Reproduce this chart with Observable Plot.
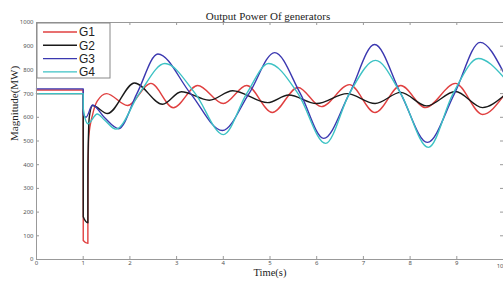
<!DOCTYPE html>
<html>
<head>
<meta charset="utf-8">
<script src="https://cdn.jsdelivr.net/npm/d3@7"></script>
<script src="https://cdn.jsdelivr.net/npm/@observablehq/plot@0.6"></script>
<style>
  html, body { margin: 0; padding: 0; background: #fff; overflow: hidden; }
  #chart svg { display: block; }
</style>
</head>
<body>
<div id="chart"></div>
<script>
const title = "Output Power Of generators";
const xLabel = "Time(s)";
const yLabel = "Magnitude(MW)";
const xTicks = [0, 1, 2, 3, 4, 5, 6, 7, 8, 9, 10];
const yTicks = [0, 100, 200, 300, 400, 500, 600, 700, 800, 900, 1000];
const seriesNames = ["G1", "G2", "G3", "G4"];
const seriesColors = ["#e04040", "#1a1a1a", "#3b38b0", "#3cc2c4"];

const G1 = [[0,715],[1.0,715],[1.001,80],[1.1,68],[1.101,300],[1.12,520],[1.2,610],[1.3,668],[1.5,700],[1.95,650],[2.45,743],[2.93,640],[3.45,734],[4.0,658],[4.5,734],[5.05,620],[5.6,726],[6.1,645],[6.7,738],[7.25,620],[7.8,734],[8.33,641],[8.97,743],[9.55,612],[10,690]];
const G2 = [[0,700],[1.0,700],[1.001,180],[1.1,155],[1.101,400],[1.13,600],[1.2,650],[1.52,616],[2.1,745],[2.7,655],[3.1,708],[3.7,672],[4.2,712],[4.95,662],[5.4,694],[6.0,658],[6.65,700],[7.25,658],[7.8,705],[8.35,648],[8.97,709],[9.55,641],[10,690]];
const G3 = [[0,720],[1.0,720],[1.001,615],[1.06,600],[1.2,652],[1.45,600],[1.76,552],[2.15,700],[2.6,867],[3.3,700],[3.98,544],[4.55,700],[5.1,873],[5.65,700],[6.15,511],[6.7,700],[7.24,907],[7.8,700],[8.37,494],[8.95,700],[9.5,916],[10,790]];
const G4 = [[0,700],[1.0,700],[1.001,637],[1.1,573],[1.3,614],[1.45,590],[1.7,550],[2.2,700],[2.75,827],[3.4,700],[4.0,527],[4.5,700],[4.97,827],[5.6,700],[6.19,490],[6.7,700],[7.26,840],[7.8,700],[8.39,473],[8.92,700],[9.46,848],[10,770]];

const seriesData = [G1, G2, G3, G4];
const rows = seriesData.flatMap((arr, i) => arr.map(([t, v]) => ({t, v, s: seriesNames[i]})));

const W = 503, H = 281;
const axisCol = "#999";
const tickLen = 3;
const fmt = d => String(d);
const xTicksMain = xTicks.slice(0, -1);
const xTickLast = xTicks.slice(-1);

const chart = Plot.plot({
  width: W,
  height: H,
  marginLeft: 36,
  marginRight: 0,
  marginTop: 22,
  marginBottom: 22,
  style: {background: "#fff", overflow: "visible"},
  x: {domain: [0, 10], label: null},
  y: {domain: [0, 1000], label: null},
  color: {domain: seriesNames, range: seriesColors},
  marks: [
    Plot.axisX({ticks: xTicksMain, tickSize: 0, tickPadding: 1, tickFormat: fmt, fontSize: 6, fill: "#555", label: null}),
    Plot.text(xTickLast, {x: d => d, frameAnchor: "bottom", dy: 4, lineAnchor: "top", textAnchor: "end", fontSize: 6, fill: "#555", text: fmt}),
    Plot.axisY({ticks: yTicks, tickSize: 0, tickPadding: 3, tickFormat: fmt, fontSize: 6, fill: "#555", label: null}),
    Plot.line(rows, {x: "t", y: "v", z: "s", stroke: "s", strokeWidth: 1.4, curve: "monotone-x"}),
    Plot.frame({stroke: axisCol, strokeWidth: 1}),
    Plot.tickX(xTicks, {x: d => d, stroke: axisCol, insetTop: 237 - tickLen}),
    Plot.tickX(xTicks, {x: d => d, stroke: axisCol, insetBottom: 237 - tickLen}),
    Plot.tickY(yTicks, {y: d => d, stroke: axisCol, insetRight: 467 - tickLen}),
    Plot.tickY(yTicks, {y: d => d, stroke: axisCol, insetLeft: 467 - tickLen}),
    Plot.text([title], {frameAnchor: "top", dy: -10, dx: -2, fontSize: 11, fontFamily: "Liberation Serif", fill: "#222"}),
    Plot.text([xLabel], {frameAnchor: "bottom", dy: 16, fontSize: 10.5, fontFamily: "Liberation Serif", fill: "#222"}),
    Plot.text([yLabel], {frameAnchor: "left", dx: -22, rotate: -90, fontSize: 11, fontFamily: "Liberation Serif", fill: "#222"})
  ]
});

document.getElementById("chart").appendChild(chart);

// Legend (MATLAB-style box in the upper-left corner of the axes)
const svg = d3.select(chart);
const lg = svg.append("g").attr("transform", "translate(37,23)");
lg.append("rect").attr("x", 0).attr("y", 0).attr("width", 73).attr("height", 55)
  .attr("fill", "#fff").attr("stroke", "#888").attr("stroke-width", 1);
seriesNames.forEach((name, i) => {
  const y = 9 + i * 13.3;
  lg.append("line").attr("x1", 6).attr("x2", 40).attr("y1", y).attr("y2", y)
    .attr("stroke", seriesColors[i]).attr("stroke-width", 1.4);
  lg.append("text").attr("x", 42).attr("y", y).attr("dy", "0.36em")
    .attr("text-anchor", "start")
    .attr("font-family", "Liberation Sans, Arial, sans-serif").attr("font-size", 12)
    .attr("fill", "#222").text(name);
});
</script>
</body>
</html>
